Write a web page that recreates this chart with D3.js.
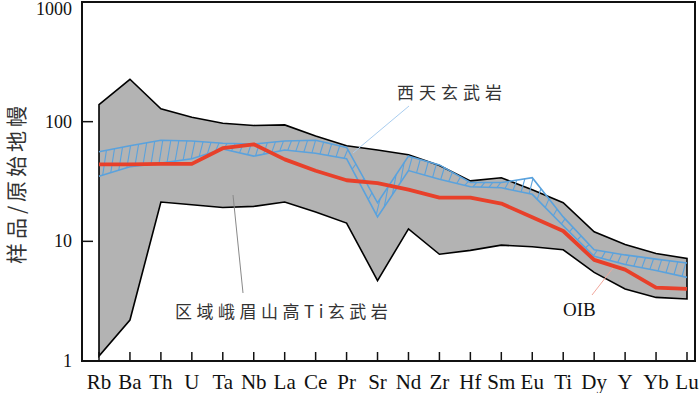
<!DOCTYPE html>
<html>
<meta charset="utf-8">
<style>
    body { margin: 0; background: #fff; }
    .tick-label { font-family: "Liberation Serif", "DejaVu Serif", serif; fill: #111; }
    .cjk { font-family: "Noto Sans CJK SC", sans-serif; fill: #333; }
</style>
<body>
<script src="https://cdn.jsdelivr.net/npm/d3@7"></script>
<div id="chart"></div>
<script>
    // element order on the spider diagram
    var elements = ["Rb", "Ba", "Th", "U", "Ta", "Nb", "La", "Ce", "Pr", "Sr",
                    "Nd", "Zr", "Hf", "Sm", "Eu", "Ti", "Dy", "Y", "Yb", "Lu"];

    // regional Emeishan high-Ti basalt envelope (grey field)
    var emeiUpper = [139, 226, 128, 109, 97, 93, 94, 76, 63, 58,
                     53, 43, 32, 34, 27, 21, 12, 9.4, 7.9, 7.2];
    var emeiLower = [1.1, 2.2, 21.3, 20.2, 19.2, 19.6, 21.3, 17.6, 14.2, 4.7,
                     12.7, 7.8, 8.4, 9.3, 9.0, 8.5, 5.5, 4.0, 3.4, 3.3];

    // Xitian basalt (hatched blue band)
    var xitianUpper = [56, 63, 70, 69, 66, 65, 69, 70, 61, 21,
                       51.5, 43.5, 31, 31, 34, 16, 8.5, 7.7, 7.1, 6.6];
    var xitianLower = [35, 42, 45, 49, 59, 51.5, 58, 54.5, 49, 16,
                       39, 33, 28.6, 28, 24.7, 13.5, 7.5, 6.4, 5.7, 5.0];

    // OIB
    var oib = [44, 44, 44.4, 44.4, 60, 64.7, 48.4, 38.9, 32.4, 30.6,
               27, 23.2, 23.2, 20.7, 15.9, 12.2, 7.0, 5.8, 4.1, 4.0];

    var yTicks = [1, 10, 100, 1000];

    var W = 700, H = 393;
    var frame = { left: 82, right: 695, top: 2, bottom: 361 };

    var svg = d3.select("#chart").append("svg")
        .attr("width", W)
        .attr("height", H);

    var x = d3.scalePoint()
        .domain(elements)
        .range([99, 687]);

    var y = d3.scaleLog()
        .domain([1, 1000])
        .range([frame.bottom, frame.top]);

    // grey envelope
    var envArea = d3.area()
        .x(function (d, i) { return x(elements[i]); })
        .y0(function (d, i) { return y(emeiLower[i]); })
        .y1(function (d, i) { return y(emeiUpper[i]); });

    svg.append("path")
        .datum(elements)
        .attr("d", envArea)
        .attr("fill", "#b3b3b3")
        .attr("stroke", "#000")
        .attr("stroke-width", 1.6)
        .attr("stroke-linejoin", "miter");

    // hatched band: position along the polyline at fractional index f
    function px(f) {
        var i = Math.min(Math.floor(f), elements.length - 2), t = f - i;
        return x(elements[i]) + (x(elements[i + 1]) - x(elements[i])) * t;
    }
    function py(arr, f) {
        var i = Math.min(Math.floor(f), elements.length - 2), t = f - i;
        return y(arr[i]) + (y(arr[i + 1]) - y(arr[i])) * t;
    }

    var last = elements.length - 1;
    var hatch = d3.range(0.12, last, 0.26);
    svg.append("g").selectAll("line")
        .data(hatch)
        .enter().append("line")
        .attr("x1", function (f) { return px(f); })
        .attr("y1", function (f) { return py(xitianLower, f); })
        .attr("x2", function (f) { return px(Math.min(f + 0.12, last)); })
        .attr("y2", function (f) { return py(xitianUpper, Math.min(f + 0.12, last)); })
        .attr("stroke", "#5aa2dd")
        .attr("stroke-width", 1.1);

    var line = function (arr) {
        return d3.line()
            .x(function (d, i) { return x(elements[i]); })
            .y(function (d) { return y(d); })(arr);
    };

    [xitianUpper, xitianLower].forEach(function (arr) {
        svg.append("path")
            .attr("d", line(arr))
            .attr("fill", "none")
            .attr("stroke", "#5aa2dd")
            .attr("stroke-width", 1.6);
    });

    // OIB
    svg.append("path")
        .attr("d", line(oib))
        .attr("fill", "none")
        .attr("stroke", "#e8402a")
        .attr("stroke-width", 3.8)
        .attr("stroke-linejoin", "round");

    // frame
    svg.append("rect")
        .attr("x", frame.left)
        .attr("y", frame.top)
        .attr("width", frame.right - frame.left)
        .attr("height", frame.bottom - frame.top)
        .attr("fill", "none")
        .attr("stroke", "#111")
        .attr("stroke-width", 2);

    // x ticks (inward)
    svg.append("g").selectAll("line")
        .data(elements)
        .enter().append("line")
        .attr("x1", function (d) { return x(d); })
        .attr("x2", function (d) { return x(d); })
        .attr("y1", frame.bottom)
        .attr("y2", frame.bottom - 9)
        .attr("stroke", "#111")
        .attr("stroke-width", 1.5);

    svg.append("g").selectAll("text")
        .data(elements)
        .enter().append("text")
        .attr("class", "tick-label")
        .attr("x", function (d) { return x(d); })
        .attr("y", 389)
        .attr("text-anchor", "middle")
        .style("font-size", "21px")
        .text(function (d) { return d; });

    // y ticks (inward)
    svg.append("g").selectAll("line")
        .data(yTicks.slice(1, 3))
        .enter().append("line")
        .attr("x1", frame.left)
        .attr("x2", frame.left + 11)
        .attr("y1", function (d) { return y(d); })
        .attr("y2", function (d) { return y(d); })
        .attr("stroke", "#111")
        .attr("stroke-width", 1.5);

    svg.append("g").selectAll("text")
        .data(yTicks)
        .enter().append("text")
        .attr("class", "tick-label")
        .attr("x", 72)
        .attr("y", function (d) { return Math.max(y(d), 9) + 6; })
        .attr("text-anchor", "end")
        .style("font-size", "18px")
        .text(function (d) { return d; });

    // y title
    svg.append("text")
        .attr("class", "cjk")
        .attr("transform", "translate(15,183) rotate(-90)")
        .attr("text-anchor", "middle")
        .attr("dominant-baseline", "central")
        .style("font-size", "21px")
        .style("letter-spacing", "4px")
        .text("样品/原始地幔");

    // annotations
    svg.append("line")
        .attr("x1", 409).attr("y1", 106).attr("x2", 353).attr("y2", 153)
        .attr("stroke", "#a9cdef").attr("stroke-width", 1);
    svg.append("text")
        .attr("class", "cjk")
        .attr("x", 397).attr("y", 99)
        .style("font-size", "17px")
        .style("letter-spacing", "5px")
        .text("西天玄武岩");

    svg.append("line")
        .attr("x1", 233).attr("y1", 195).attr("x2", 243).attr("y2", 293)
        .attr("stroke", "#888").attr("stroke-width", 1);
    svg.append("text")
        .attr("class", "cjk")
        .attr("x", 175).attr("y", 318)
        .style("font-size", "17px")
        .style("letter-spacing", "4.5px")
        .text("区域峨眉山高Ti玄武岩");

    svg.append("line")
        .attr("x1", 592).attr("y1", 295).attr("x2", 613).attr("y2", 268)
        .attr("stroke", "#f2a79c").attr("stroke-width", 1);
    svg.append("text")
        .attr("class", "tick-label")
        .attr("x", 563).attr("y", 316)
        .style("font-size", "19px")
        .text("OIB");
</script>
</body>
</html>
